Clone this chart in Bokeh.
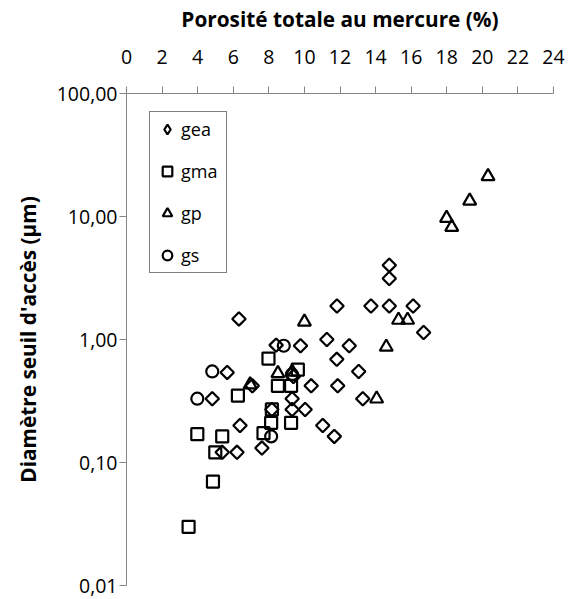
import math
from bokeh.plotting import figure
from bokeh.models import (Range1d, FixedTicker, CustomJSTickFormatter, Legend,
                          LegendItem)
from bokeh.embed import file_html
from bokeh.resources import INLINE

# ---- data ----
gea_x = [6.32, 8.41, 5.66, 4.82, 7.07, 6.38, 5.38, 6.21, 7.61, 11.83, 13.74, 14.77,
         16.11, 16.70, 11.26, 12.52, 9.78, 11.82, 13.05, 9.38, 10.38, 11.87, 13.28,
         9.31, 9.31, 10.04, 11.03, 11.68, 14.77, 14.77, 8.17]
gea_y = [1.47, 0.90, 0.54, 0.33, 0.42, 0.20, 0.121, 0.121, 0.131, 1.87, 1.87, 1.87,
         1.87, 1.14, 1.00, 0.89, 0.89, 0.69, 0.55, 0.50, 0.42, 0.42, 0.33,
         0.33, 0.27, 0.27, 0.20, 0.163, 4.02, 3.13, 0.27]

gma_x = [7.98, 8.51, 9.25, 9.63, 6.26, 8.17, 8.13, 9.25, 3.98, 5.38, 7.70, 4.99, 4.86, 3.49]
gma_y = [0.70, 0.42, 0.42, 0.57, 0.35, 0.27, 0.21, 0.21, 0.17, 0.163, 0.173, 0.121, 0.070, 0.030]

gp_x = [10.0, 15.29, 15.80, 14.6, 8.51, 9.31, 6.95, 14.06, 20.32, 19.29, 17.99, 18.28]
gp_y = [1.39, 1.44, 1.44, 0.87, 0.53, 0.545, 0.43, 0.33, 21.2, 13.4, 9.7, 8.2]

gs_x = [8.84, 4.82, 3.98, 8.13, 9.3]
gs_y = [0.89, 0.55, 0.33, 0.163, 0.52]

x_ticks = list(range(0, 25, 2))
y_ticks = [0.01, 0.1, 1, 10, 100]
series_labels = ["gea", "gma", "gp", "gs"]

FONT = "Open Sans"
AX = "#868686"

p = figure(width=576, height=599, x_range=Range1d(0, 24), y_range=Range1d(0.01, 100),
           y_axis_type="log", x_axis_location="above", output_backend="svg",
           toolbar_location=None, min_border_left=126, min_border_top=93,
           min_border_right=23, min_border_bottom=14)
p.outline_line_color = None
p.grid.visible = False
p.background_fill_color = "white"

xa = p.xaxis[0]
xa.ticker = FixedTicker(ticks=x_ticks)
xa.axis_label = "Porosité totale au mercure (%)"
xa.axis_label_text_font = FONT
xa.axis_label_text_font_style = "bold"
xa.axis_label_text_font_size = "20.8px"
xa.axis_label_text_color = "black"
xa.axis_label_standoff = 14
xa.major_label_text_font = FONT
xa.major_label_text_font_size = "19.5px"
xa.major_label_text_color = "black"
xa.major_label_standoff = 23
xa.major_tick_out = 7
xa.major_tick_in = 0
xa.minor_tick_out = 0
xa.minor_tick_in = 0
xa.axis_line_color = AX
xa.major_tick_line_color = AX

ya = p.yaxis[0]
ya.ticker = FixedTicker(ticks=y_ticks)
ya.formatter = CustomJSTickFormatter(code="return tick.toFixed(2).replace('.', ',');")
ya.axis_label = "Diamètre seuil d'accès (µm)"
ya.axis_label_text_font = FONT
ya.axis_label_text_font_style = "bold"
ya.axis_label_text_font_size = "20.8px"
ya.axis_label_text_color = "black"
ya.axis_label_standoff = 12
ya.major_label_text_font = FONT
ya.major_label_text_font_size = "19.5px"
ya.major_label_text_color = "black"
ya.major_label_standoff = 2
ya.major_tick_out = 7
ya.major_tick_in = 0
ya.minor_tick_out = 0
ya.minor_tick_in = 0
ya.axis_line_color = AX
ya.major_tick_line_color = AX

LW = 2.2
r_gea = p.scatter(gea_x, gea_y, marker="square", size=9.5, angle=math.pi / 4,
                  line_color="black", line_width=LW, fill_color=None)
r_gma = p.scatter(gma_x, gma_y, marker="square", size=12, line_color="black",
                  line_width=LW, fill_color=None)
r_gp = p.scatter(gp_x, gp_y, marker="triangle", size=13, line_color="black",
                 line_width=LW, fill_color=None)
r_gs = p.scatter(gs_x, gs_y, marker="circle", size=12, line_color="black",
                 line_width=LW, fill_color=None)

# legend-only renderer (hidden) for the diamond symbol, since legends ignore marker angle
r_gea_leg = p.scatter(gea_x, gea_y, marker="diamond", size=10, line_color="black",
                      line_width=LW, fill_color=None, visible=False)

legend = Legend(items=[LegendItem(label=series_labels[0], renderers=[r_gea_leg]),
                       LegendItem(label=series_labels[1], renderers=[r_gma]),
                       LegendItem(label=series_labels[2], renderers=[r_gp]),
                       LegendItem(label=series_labels[3], renderers=[r_gs])],
                location=(23, 312), padding=5, spacing=18, glyph_width=24,
                glyph_height=24, label_standoff=2, label_width=40,
                label_text_font=FONT, label_text_font_size="18px",
                label_text_color="black",
                border_line_color="black", border_line_width=1,
                background_fill_color="white", background_fill_alpha=1,
                inactive_fill_alpha=0, margin=0)
p.add_layout(legend)

open("out.html", "w").write(file_html(p, INLINE))
